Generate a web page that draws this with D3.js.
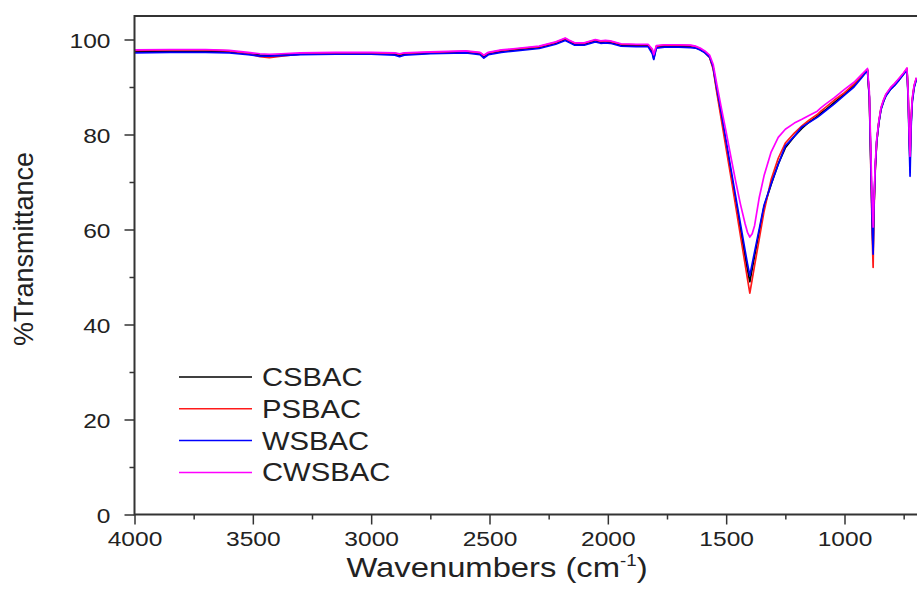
<!DOCTYPE html>
<html>
<head>
<meta charset="utf-8">
<script src="https://cdn.jsdelivr.net/npm/d3@7"></script>
<style>
  body { margin: 0; background: #fff; }
  text { font-family: "Liberation Sans", Arial, sans-serif; fill: #222; }
</style>
</head>
<body>
<script>
var w = 917;
var h = 589;

// wavenumbers (cm-1), shared by all four spectra
var wavenumbers = [4000, 3850, 3700, 3600, 3520, 3470, 3430, 3380, 3300, 3150,
  3000, 2900, 2880, 2860, 2750, 2600, 2540, 2524, 2505, 2450,
  2390, 2290, 2220, 2180, 2165, 2140, 2100, 2053, 2030, 2010,
  1990, 1944, 1880, 1830, 1812, 1806, 1795, 1760, 1700, 1650,
  1630, 1610, 1590, 1570, 1555, 1540, 1520, 1500, 1480, 1460,
  1440, 1420, 1410, 1400, 1390, 1380, 1360, 1340, 1310, 1280,
  1250, 1212, 1180, 1150, 1115, 1100, 1080, 1044, 1000, 960,
  930, 903, 895, 888, 882, 879, 876, 870, 864, 855,
  846, 835, 825, 805, 789, 770, 750, 736, 731, 727,
  723, 719, 714, 706, 696];

var csbac = [97.4, 97.5, 97.5, 97.4, 97.0, 96.7, 96.6, 96.7, 96.9, 97.0,
  97.0, 96.9, 96.6, 96.9, 97.1, 97.3, 97.0, 96.4, 97.0, 97.5,
  97.8, 98.3, 99.2, 100.0, 99.6, 99.0, 99.0, 99.7, 99.4, 99.5,
  99.4, 98.8, 98.7, 98.7, 97.5, 96.0, 98.4, 98.6, 98.6, 98.5,
  98.3, 97.9, 97.3, 96.3, 94.1, 89.5, 83.8, 77.9, 72.0, 66.0,
  60.1, 54.3, 51.5, 49.0, 51.7, 54.4, 59.6, 64.8, 69.5, 73.8,
  77.2, 79.6, 81.3, 82.6, 83.8, 84.5, 85.2, 86.7, 88.5, 90.3,
  92.0, 93.6, 88.0, 73.0, 60.0, 55.5, 64.0, 73.0, 78.5, 82.5,
  85.3, 87.0, 88.2, 89.6, 90.4, 91.5, 92.8, 93.8, 88.0, 80.0,
  74.0, 82.0, 87.0, 90.0, 91.8];

var psbac = [97.7, 97.8, 97.8, 97.6, 97.0, 96.4, 96.2, 96.5, 96.9, 97.1,
  97.2, 97.1, 96.9, 97.1, 97.3, 97.5, 97.2, 96.6, 97.2, 97.7,
  98.0, 98.5, 99.4, 100.2, 99.8, 99.2, 99.2, 99.9, 99.6, 99.7,
  99.6, 99.0, 98.9, 98.9, 97.8, 96.5, 98.6, 98.8, 98.8, 98.7,
  98.5, 98.0, 97.3, 96.2, 93.8, 89.0, 83.0, 77.0, 71.1, 65.0,
  58.8, 52.7, 49.6, 46.6, 49.5, 52.4, 58.1, 63.8, 70.5, 75.0,
  78.2, 80.3, 81.8, 83.0, 84.2, 84.9, 85.7, 87.2, 88.8, 90.6,
  92.2, 93.7, 87.5, 71.0, 57.0, 52.0, 63.0, 72.5, 78.3, 82.6,
  85.5, 87.2, 88.4, 89.8, 90.6, 91.7, 92.9, 93.9, 88.5, 81.0,
  75.5, 82.5, 87.3, 90.2, 91.9];

var wsbac = [97.2, 97.3, 97.3, 97.2, 96.8, 96.5, 96.5, 96.6, 96.8, 96.9,
  96.9, 96.7, 96.4, 96.7, 97.0, 97.2, 96.8, 96.1, 96.8, 97.3,
  97.6, 98.1, 99.0, 99.8, 99.4, 98.8, 98.8, 99.5, 99.2, 99.3,
  99.2, 98.6, 98.5, 98.5, 97.0, 95.8, 98.2, 98.4, 98.4, 98.3,
  98.2, 97.8, 97.2, 96.3, 94.2, 89.8, 84.3, 78.6, 72.8, 67.0,
  61.3, 55.6, 52.8, 50.3, 52.8, 55.3, 60.2, 65.1, 69.6, 73.7,
  77.6, 79.6, 81.6, 82.5, 83.6, 84.2, 85.0, 86.4, 88.3, 90.0,
  91.8, 93.5, 87.8, 72.0, 59.0, 54.8, 64.0, 73.0, 78.5, 82.4,
  85.2, 86.9, 88.1, 89.5, 90.3, 91.4, 92.7, 93.6, 87.5, 79.0,
  71.2, 81.0, 86.5, 89.8, 91.6];

var cwsbac = [97.8, 97.9, 97.9, 97.7, 97.3, 97.0, 96.9, 97.0, 97.2, 97.3,
  97.3, 97.2, 97.0, 97.2, 97.4, 97.6, 97.3, 96.7, 97.3, 97.8,
  98.1, 98.6, 99.5, 100.3, 99.9, 99.3, 99.3, 100.0, 99.7, 99.8,
  99.7, 99.1, 99.0, 99.0, 98.0, 96.8, 98.7, 98.9, 98.9, 98.8,
  98.6, 98.2, 97.6, 96.7, 94.8, 90.7, 85.5, 80.5, 75.3, 70.2,
  65.4, 61.2, 59.4, 58.4, 59.1, 60.8, 66.8, 71.3, 76.3, 79.4,
  81.1, 82.4, 83.2, 84.0, 84.9, 85.6, 86.4, 87.7, 89.5, 91.0,
  92.5, 93.9, 89.0, 75.0, 64.0, 60.5, 65.5, 74.0, 79.0, 82.8,
  85.6, 87.3, 88.5, 89.9, 90.7, 91.8, 93.0, 94.0, 88.5, 81.0,
  75.4, 83.0, 87.5, 90.3, 92.0];

var seriesNames = ["CSBAC", "PSBAC", "WSBAC", "CWSBAC"];
var seriesValues = [csbac, psbac, wsbac, cwsbac];
var seriesColors = ["#000000", "#ff1a1a", "#0000ff", "#ff00ff"];

var xTicks = [4000, 3500, 3000, 2500, 2000, 1500, 1000];
var xMinor = [3750, 3250, 2750, 2250, 1750, 1250, 750];
var yTicks = [0, 20, 40, 60, 80, 100];
var yMinor = [10, 30, 50, 70, 90];

var plotLeft = 134.5, plotTop = 16, plotBottom = 514.5, plotRight = 917;
var stretch = 1.17; // the reference text is a little wide

var xScale = d3.scaleLinear()
  .domain([4000, 1000])
  .range([plotLeft, 844.5]);

var yScale = d3.scaleLinear()
  .domain([0, 100])
  .range([plotBottom, 39.5]);

var svg = d3.select("body")
  .append("svg")
  .attr("width", w)
  .attr("height", h);

svg.append("defs").append("clipPath")
  .attr("id", "plot")
  .append("rect")
  .attr("x", plotLeft)
  .attr("y", plotTop)
  .attr("width", plotRight - plotLeft)
  .attr("height", plotBottom - plotTop);

// spectra, drawn in legend order so CWSBAC sits on top
var line = d3.line()
  .x(function(d) { return xScale(d[0]); })
  .y(function(d) { return yScale(d[1]); });

svg.append("g")
  .attr("clip-path", "url(#plot)")
  .selectAll("path")
  .data(seriesValues)
  .enter()
  .append("path")
  .attr("fill", "none")
  .attr("stroke", function(d, i) { return seriesColors[i]; })
  .attr("stroke-width", 1.7)
  .attr("stroke-linejoin", "round")
  .attr("d", function(vals) {
    return line(wavenumbers.map(function(wn, j) { return [wn, vals[j]]; }));
  });

// axes
var xAxis = svg.append("g")
  .attr("transform", "translate(0," + plotBottom + ")")
  .call(d3.axisBottom(xScale).tickValues(xTicks).tickSize(10).tickFormat(d3.format("d")));
xAxis.select(".domain").remove();
xAxis.selectAll(".tick line").attr("stroke", "#333").attr("stroke-width", 1.5);
xAxis.selectAll(".tick text")
  .attr("y", 32).attr("dy", null)
  .attr("font-size", 21)
  .attr("fill", "#222")
  .attr("transform", "scale(" + stretch + ",1)");

var xAxisMinor = svg.append("g")
  .attr("transform", "translate(0," + plotBottom + ")")
  .call(d3.axisBottom(xScale).tickValues(xMinor).tickSize(5).tickFormat(""));
xAxisMinor.select(".domain").remove();
xAxisMinor.selectAll(".tick line").attr("stroke", "#333").attr("stroke-width", 1.5);

var yAxis = svg.append("g")
  .attr("transform", "translate(" + plotLeft + ",0)")
  .call(d3.axisLeft(yScale).tickValues(yTicks).tickSize(10));
yAxis.select(".domain").remove();
yAxis.selectAll(".tick line").attr("stroke", "#333").attr("stroke-width", 1.5);
yAxis.selectAll(".tick text")
  .attr("x", -24 / stretch)
  .attr("dy", "0.36em")
  .attr("font-size", 21)
  .attr("fill", "#222")
  .attr("transform", "scale(" + stretch + ",1)");

var yAxisMinor = svg.append("g")
  .attr("transform", "translate(" + plotLeft + ",0)")
  .call(d3.axisLeft(yScale).tickValues(yMinor).tickSize(5).tickFormat(""));
yAxisMinor.select(".domain").remove();
yAxisMinor.selectAll(".tick line").attr("stroke", "#333").attr("stroke-width", 1.5);

// frame (right side runs off the page)
svg.append("path")
  .attr("fill", "none")
  .attr("stroke", "#333")
  .attr("stroke-width", 2)
  .attr("d", "M" + plotRight + "," + plotTop + "H" + plotLeft + "V" + plotBottom + "H" + plotRight);

// axis titles
var xTitle = svg.append("text")
  .attr("text-anchor", "middle")
  .attr("font-size", 28)
  .attr("transform", "translate(497,577) scale(" + stretch + ",1)");
xTitle.append("tspan").text("Wavenumbers (cm");
xTitle.append("tspan").attr("font-size", 16).attr("dy", -11).text("-1");
xTitle.append("tspan").attr("dy", 11).text(")");

svg.append("text")
  .attr("text-anchor", "middle")
  .attr("font-size", 27)
  .attr("transform", "translate(33,249) rotate(-90)")
  .text("%Transmittance");

// legend
var legend = svg.append("g")
  .selectAll("g")
  .data(seriesNames)
  .enter()
  .append("g")
  .attr("transform", function(d, i) { return "translate(179," + (377 + i * 31.8) + ")"; });

legend.append("line")
  .attr("x1", 0).attr("x2", 73)
  .attr("stroke", function(d, i) { return seriesColors[i]; })
  .attr("stroke-width", 1.5);

legend.append("text")
  .attr("transform", "translate(83,9) scale(" + stretch + ",1)")
  .attr("font-size", 25)
  .attr("fill", "#222")
  .text(function(d) { return d; });
</script>
</body>
</html>
